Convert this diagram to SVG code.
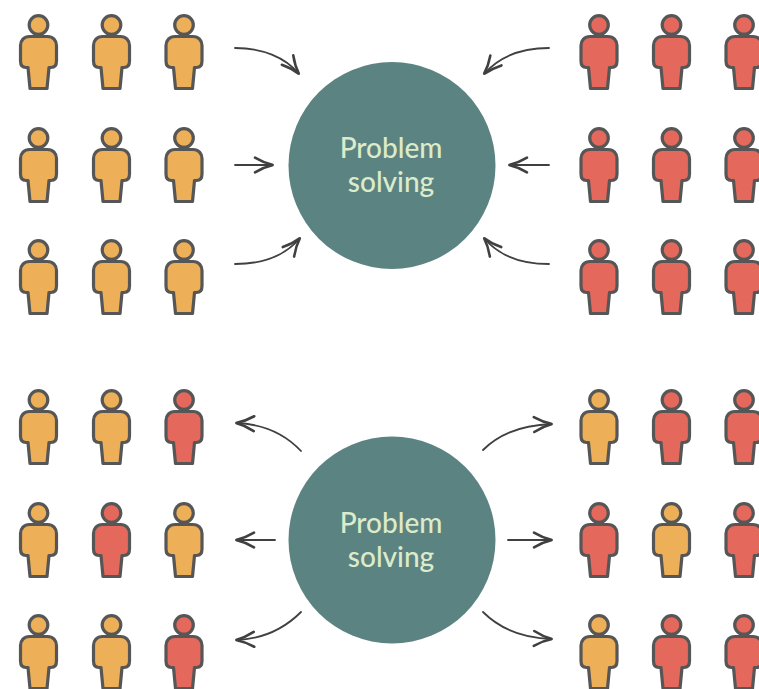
<svg xmlns="http://www.w3.org/2000/svg" xmlns:xlink="http://www.w3.org/1999/xlink" width="759" height="689" viewBox="0 0 759 689">
<style>
.o{fill:#edb058}
.r{fill:#e5685c}
.hub{fill:#5b8382}
.lbl{font-family:Lato,"Open Sans",sans-serif;font-size:28px;font-weight:500;fill:#dcebc9;text-anchor:middle}
.pp{stroke:#565656;stroke-width:3.2;stroke-linejoin:round}
.arr{fill:none;stroke:#404040;stroke-width:1.8;stroke-linecap:round;marker-end:url(#head)}
</style>
<defs>
<marker id="head" markerUnits="userSpaceOnUse" markerWidth="26" markerHeight="22" refX="21" refY="11" orient="auto" overflow="visible">
<path d="M3 3.6Q12 9 21 11Q12 13 3 18.4" fill="none" stroke="#404040" stroke-width="2.6" stroke-linecap="round" stroke-linejoin="miter"/>
</marker>
<g id="person" class="pp">
<circle cx="0" cy="0" r="9.3"/>
<path d="M-9 11.5H9C14.5 11.5 18 15.5 18 20.5V36C18 40 16 42.5 12.5 42.5H10.5L8.5 63.5H-8.5L-10.5 42.5H-12.5C-16 42.5 -18 40 -18 36V20.5C-18 15.5 -14.5 11.5 -9 11.5Z"/>
</g>
</defs>
<rect width="759" height="689" fill="#fff"/>
<g id="connectors">
<path class="arr" d="M235 48C262 48 285 57 299 74"/>
<path class="arr" d="M235 165H273"/>
<path class="arr" d="M235 264C262 264 285 256 300 238"/>
<path class="arr" d="M549 48C522 48 499 57 484 74"/>
<path class="arr" d="M549 165H509"/>
<path class="arr" d="M549 264C522 264 499 256 484 238"/>
<path class="arr" d="M301 451C285 434 264 424 236 423"/>
<path class="arr" d="M275 540H236"/>
<path class="arr" d="M301 612C285 628 264 639 236 640"/>
<path class="arr" d="M483 450C499 434 522 425 552 424"/>
<path class="arr" d="M508 540H552"/>
<path class="arr" d="M483 612C499 628 522 638 552 639"/>
</g>
<g id="hub-top"><circle class="hub" cx="392" cy="165.500" r="103.500"/><text class="lbl" x="391" y="158">Problem</text><text class="lbl" x="391" y="192">solving</text></g>
<g id="hub-bottom"><circle class="hub" cx="392" cy="540" r="103.500"/><text class="lbl" x="391" y="533">Problem</text><text class="lbl" x="391" y="567">solving</text></g>
<g id="p-a1" class="o"><use href="#person" x="38.500" y="25"/></g>
<g id="p-a2" class="o"><use href="#person" x="111.500" y="25"/></g>
<g id="p-a3" class="o"><use href="#person" x="184" y="25"/></g>
<g id="p-a4" class="o"><use href="#person" x="38.500" y="138"/></g>
<g id="p-a5" class="o"><use href="#person" x="111.500" y="138"/></g>
<g id="p-a6" class="o"><use href="#person" x="184" y="138"/></g>
<g id="p-a7" class="o"><use href="#person" x="38.500" y="250"/></g>
<g id="p-a8" class="o"><use href="#person" x="111.500" y="250"/></g>
<g id="p-a9" class="o"><use href="#person" x="184" y="250"/></g>
<g id="p-b1" class="r"><use href="#person" x="599" y="25"/></g>
<g id="p-b2" class="r"><use href="#person" x="671.500" y="25"/></g>
<g id="p-b3" class="r"><use href="#person" x="744" y="25"/></g>
<g id="p-b4" class="r"><use href="#person" x="599" y="138"/></g>
<g id="p-b5" class="r"><use href="#person" x="671.500" y="138"/></g>
<g id="p-b6" class="r"><use href="#person" x="744" y="138"/></g>
<g id="p-b7" class="r"><use href="#person" x="599" y="250"/></g>
<g id="p-b8" class="r"><use href="#person" x="671.500" y="250"/></g>
<g id="p-b9" class="r"><use href="#person" x="744" y="250"/></g>
<g id="p-c1" class="o"><use href="#person" x="38.500" y="400"/></g>
<g id="p-c2" class="o"><use href="#person" x="111.500" y="400"/></g>
<g id="p-c3" class="r"><use href="#person" x="184" y="400"/></g>
<g id="p-c4" class="o"><use href="#person" x="38.500" y="513"/></g>
<g id="p-c5" class="r"><use href="#person" x="111.500" y="513"/></g>
<g id="p-c6" class="o"><use href="#person" x="184" y="513"/></g>
<g id="p-c7" class="o"><use href="#person" x="38.500" y="625"/></g>
<g id="p-c8" class="o"><use href="#person" x="111.500" y="625"/></g>
<g id="p-c9" class="r"><use href="#person" x="184" y="625"/></g>
<g id="p-d1" class="o"><use href="#person" x="599" y="400"/></g>
<g id="p-d2" class="r"><use href="#person" x="671.500" y="400"/></g>
<g id="p-d3" class="r"><use href="#person" x="744" y="400"/></g>
<g id="p-d4" class="r"><use href="#person" x="599" y="513"/></g>
<g id="p-d5" class="o"><use href="#person" x="671.500" y="513"/></g>
<g id="p-d6" class="r"><use href="#person" x="744" y="513"/></g>
<g id="p-d7" class="o"><use href="#person" x="599" y="625"/></g>
<g id="p-d8" class="r"><use href="#person" x="671.500" y="625"/></g>
<g id="p-d9" class="r"><use href="#person" x="744" y="625"/></g>
</svg>
